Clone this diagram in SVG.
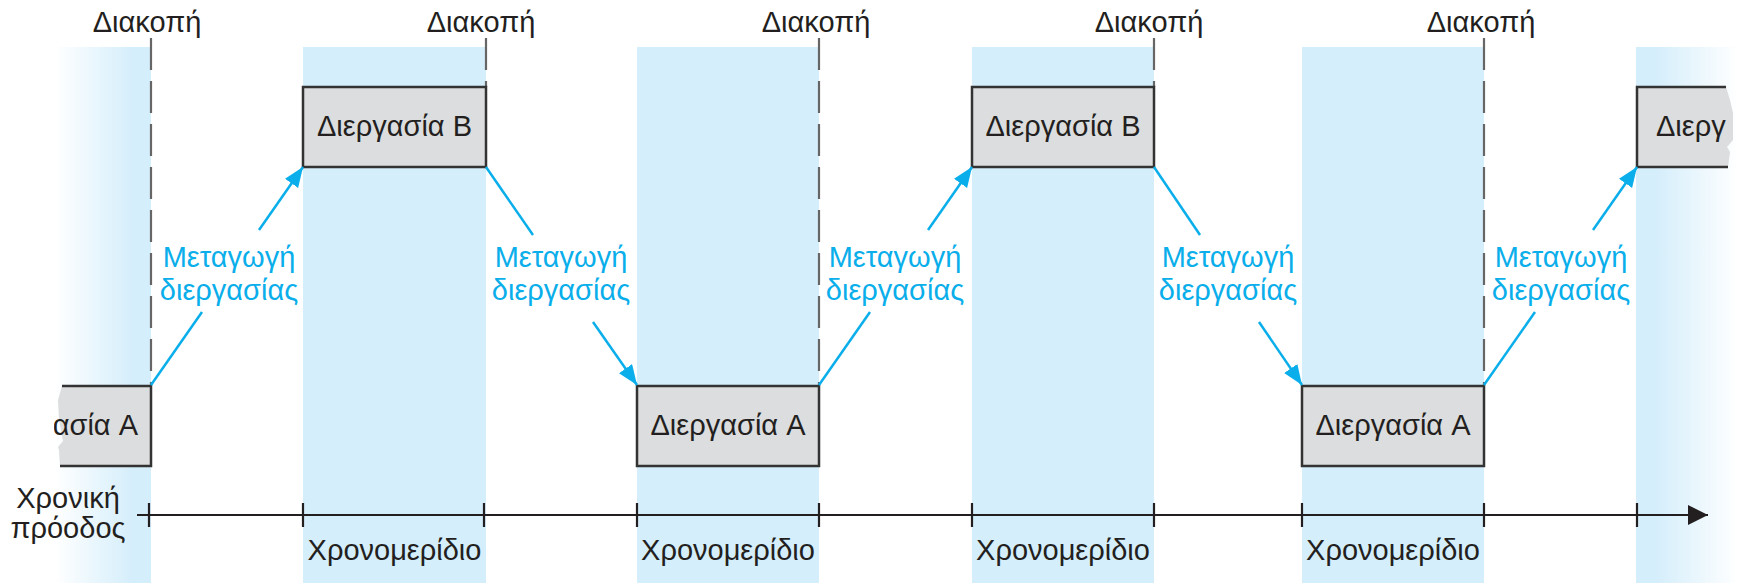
<svg xmlns="http://www.w3.org/2000/svg" width="1738" height="583" viewBox="0 0 1738 583">
<style>
text{font-family:"Liberation Sans",Arial,sans-serif;font-size:29px;fill:#231f20}
.blue{fill:#0aaeea}
.mid{text-anchor:middle}
.box{fill:#dcddde;stroke:#333;stroke-width:2.5}
.band{fill:#d5eefb}
.dash{stroke:#666;stroke-width:2.2;stroke-dasharray:32 11;fill:none}
.conn{stroke:#0aaeea;stroke-width:2.5;fill:none}
.axis{stroke:#231f20;stroke-width:2.2;fill:none}
</style>
<defs>
<linearGradient id="gl" x1="0" x2="1" y1="0" y2="0"><stop offset="0" stop-color="#d5eefb" stop-opacity="0"/><stop offset="0.8" stop-color="#d5eefb"/></linearGradient>
<linearGradient id="gr" x1="0" x2="1" y1="0" y2="0"><stop offset="0.2" stop-color="#d5eefb"/><stop offset="1" stop-color="#d5eefb" stop-opacity="0"/></linearGradient>
<marker id="ah" markerUnits="userSpaceOnUse" markerWidth="22" markerHeight="18" refX="20" refY="8" orient="auto"><path d="M0,0 L20,8 L0,16 z" fill="#0aaeea"/></marker>
<marker id="ax" markerUnits="userSpaceOnUse" markerWidth="22" markerHeight="22" refX="20" refY="10" orient="auto"><path d="M0,0 L20,10 L0,20 z" fill="#231f20"/></marker>
<clipPath id="cl"><rect x="54" y="386" width="98" height="80"/></clipPath>
<clipPath id="cr"><rect x="1636" y="87" width="90" height="80"/></clipPath>
</defs>
<rect width="1738" height="583" fill="#fff"/>
<g id="bands">
<rect x="55" y="47" width="96" height="536" fill="url(#gl)"/>
<rect class="band" x="303" y="47" width="183" height="536"/>
<rect class="band" x="637" y="47" width="182" height="536"/>
<rect class="band" x="972" y="47" width="182" height="536"/>
<rect class="band" x="1302" y="47" width="182" height="536"/>
<rect x="1636" y="47" width="102" height="536" fill="url(#gr)"/>
</g>
<g id="interrupts">
<path class="dash" d="M151,38 V385"/>
<path class="dash" d="M486,38 V87"/>
<path class="dash" d="M819,38 V385"/>
<path class="dash" d="M1154,38 V87"/>
<path class="dash" d="M1484,38 V385"/>
<text class="mid" x="147" y="32">Διακοπή</text>
<text class="mid" x="481" y="32">Διακοπή</text>
<text class="mid" x="816" y="32">Διακοπή</text>
<text class="mid" x="1149" y="32">Διακοπή</text>
<text class="mid" x="1481" y="32">Διακοπή</text>
</g>
<g id="node-a0">
<path d="M62,386 L152,386 L152,466 L60,466 L59,450 L58,447 L63,441 L59,420 L58,400 z" fill="#dcddde"/>
<path d="M62,386 L151,386 L151,466 L60,466" fill="none" stroke="#333" stroke-width="2.5"/>
<text x="138" y="435" text-anchor="end" clip-path="url(#cl)">Διεργασία A</text>
</g>
<g id="node-b1"><rect class="box" x="303" y="87" width="183" height="80"/><text class="mid" x="394.5" y="136">Διεργασία B</text></g>
<g id="node-a1"><rect class="box" x="637" y="386" width="182" height="80"/><text class="mid" x="728" y="435">Διεργασία A</text></g>
<g id="node-b2"><rect class="box" x="972" y="87" width="182" height="80"/><text class="mid" x="1063" y="136">Διεργασία B</text></g>
<g id="node-a2"><rect class="box" x="1302" y="386" width="182" height="80"/><text class="mid" x="1393" y="435">Διεργασία A</text></g>
<g id="node-b3">
<path d="M1636,87 L1726,87 L1730,100 L1733,113 L1733,140 L1727,147 L1730,152 L1728,167 L1636,167 z" fill="#dcddde"/>
<path d="M1726,87 L1637,87 L1637,167 L1728,167" fill="none" stroke="#333" stroke-width="2.5"/>
<text x="1656" y="136" clip-path="url(#cr)">Διεργασία B</text>
</g>
<g id="connectors">
<path class="conn" d="M151,385 L202,312"/><path class="conn" d="M259,230 L303,167" marker-end="url(#ah)"/>
<path class="conn" d="M486,167 L533,235"/><path class="conn" d="M593,322 L637,385" marker-end="url(#ah)"/>
<path class="conn" d="M819,385 L870,312"/><path class="conn" d="M928,230 L972,167" marker-end="url(#ah)"/>
<path class="conn" d="M1154,167 L1200,235"/><path class="conn" d="M1259,322 L1302,385" marker-end="url(#ah)"/>
<path class="conn" d="M1484,385 L1535,312"/><path class="conn" d="M1593,230 L1637,167" marker-end="url(#ah)"/>
</g>
<g id="switch-labels">
<text class="mid blue" x="229" y="267">Μεταγωγή</text><text class="mid blue" x="229" y="300">διεργασίας</text>
<text class="mid blue" x="561" y="267">Μεταγωγή</text><text class="mid blue" x="561" y="300">διεργασίας</text>
<text class="mid blue" x="895" y="267">Μεταγωγή</text><text class="mid blue" x="895" y="300">διεργασίας</text>
<text class="mid blue" x="1228" y="267">Μεταγωγή</text><text class="mid blue" x="1228" y="300">διεργασίας</text>
<text class="mid blue" x="1561" y="267">Μεταγωγή</text><text class="mid blue" x="1561" y="300">διεργασίας</text>
</g>
<g id="timeline">
<path class="axis" d="M137,515 H1708" marker-end="url(#ax)"/>
<path class="axis" d="M149,503 V527 M303,503 V527 M484,503 V527 M637,503 V527 M819,503 V527 M972,503 V527 M1154,503 V527 M1302,503 V527 M1484,503 V527 M1637,503 V527"/>
<text class="mid" x="68" y="508">Χρονική</text>
<text class="mid" x="68" y="538">πρόοδος</text>
<text class="mid" x="394.5" y="560">Χρονομερίδιο</text>
<text class="mid" x="728" y="560">Χρονομερίδιο</text>
<text class="mid" x="1063" y="560">Χρονομερίδιο</text>
<text class="mid" x="1393" y="560">Χρονομερίδιο</text>
</g>
</svg>
